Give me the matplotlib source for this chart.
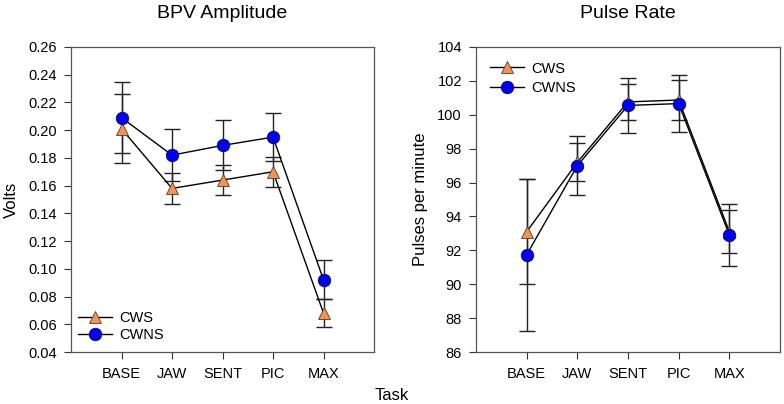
import numpy as np
import matplotlib
matplotlib.use('Agg')
import matplotlib.pyplot as plt

plt.rcParams['font.family'] = ['Liberation Sans', 'DejaVu Sans']

# categories on the x axis
tasks = ['BASE', 'JAW', 'SENT', 'PIC', 'MAX']

# BPV amplitude (volts), mean and error
bpv_cws = [0.201, 0.158, 0.164, 0.170, 0.068]
bpv_cws_err = [0.025, 0.011, 0.011, 0.011, 0.010]
bpv_cwns = [0.209, 0.182, 0.189, 0.195, 0.092]
bpv_cwns_err = [0.0255, 0.0186, 0.018, 0.0174, 0.014]

# pulse rate (pulses per minute), mean and error
pr_cws = [93.09, 97.19, 100.76, 100.87, 93.1]
pr_cws_err = [3.1, 1.12, 1.07, 1.18, 1.27]
pr_cwns = [91.73, 96.99, 100.55, 100.66, 92.9]
pr_cwns_err = [4.5, 1.74, 1.63, 1.67, 1.84]

x = np.arange(1, len(tasks) + 1)

fig = plt.figure(figsize=(7.84, 4.04), dpi=100)
ax1 = fig.add_axes([0.0906, 0.1287, 0.3865, 0.755])
ax2 = fig.add_axes([0.607, 0.1287, 0.388, 0.755])

orange = '#F0935A'
blue = '#0000F0'


def draw_panel(ax, cws, cws_err, cwns, cwns_err):
    ax.errorbar(x, cws, yerr=cws_err, fmt='none', ecolor='#222222',
                elinewidth=1, capsize=6, capthick=1, zorder=2)
    ax.errorbar(x, cwns, yerr=cwns_err, fmt='none', ecolor='#222222',
                elinewidth=1, capsize=6, capthick=1, zorder=2)
    ax.plot(x, cws, color='black', lw=1, marker='^', markersize=8,
            markerfacecolor=orange, markeredgecolor='#5a3a20',
            markeredgewidth=0.6, label='CWS', zorder=3)
    ax.plot(x, cwns, color='black', lw=1, marker='o', markersize=9,
            markerfacecolor=blue, markeredgecolor='#101040',
            markeredgewidth=0.6, label='CWNS', zorder=4)
    ax.set_xlim(0, 6)
    ax.set_xticks(x)
    ax.set_xticklabels(tasks)
    ax.tick_params(direction='out', length=5, width=0.8, labelsize=10.5,
                   color='#333333', pad=5)
    ax.tick_params(axis='x', pad=6)
    for s in ax.spines.values():
        s.set_color('#555555')
        s.set_linewidth(0.9)


draw_panel(ax1, bpv_cws, bpv_cws_err, bpv_cwns, bpv_cwns_err)
ax1.set_ylim(0.04, 0.26)
ax1.set_yticks(np.arange(0.04, 0.261, 0.02))
ax1.set_yticklabels(['%.2f' % v for v in np.arange(0.04, 0.261, 0.02)])
ax1.set_title('BPV Amplitude', fontsize=14, pad=21)
ax1.set_ylabel('Volts', fontsize=12, labelpad=7)
ax1.legend(loc='lower left', frameon=False, fontsize=10.5, handlelength=2.3,
           handletextpad=0.5, borderaxespad=0.1, labelspacing=0.15,
           bbox_to_anchor=(0.0, 0.01))

draw_panel(ax2, pr_cws, pr_cws_err, pr_cwns, pr_cwns_err)
ax2.set_ylim(86, 104)
ax2.set_yticks(np.arange(86, 105, 2))
ax2.set_title('Pulse Rate', fontsize=14, pad=21)
ax2.set_ylabel('Pulses per minute', fontsize=12, labelpad=7)
ax2.legend(loc='upper left', frameon=False, fontsize=10.5, handlelength=2.3,
           handletextpad=0.5, borderaxespad=0.6, labelspacing=0.35)

fig.text(0.5, 0.022, 'Task', ha='center', va='center', fontsize=12)

fig.savefig('out.png', dpi=100)
